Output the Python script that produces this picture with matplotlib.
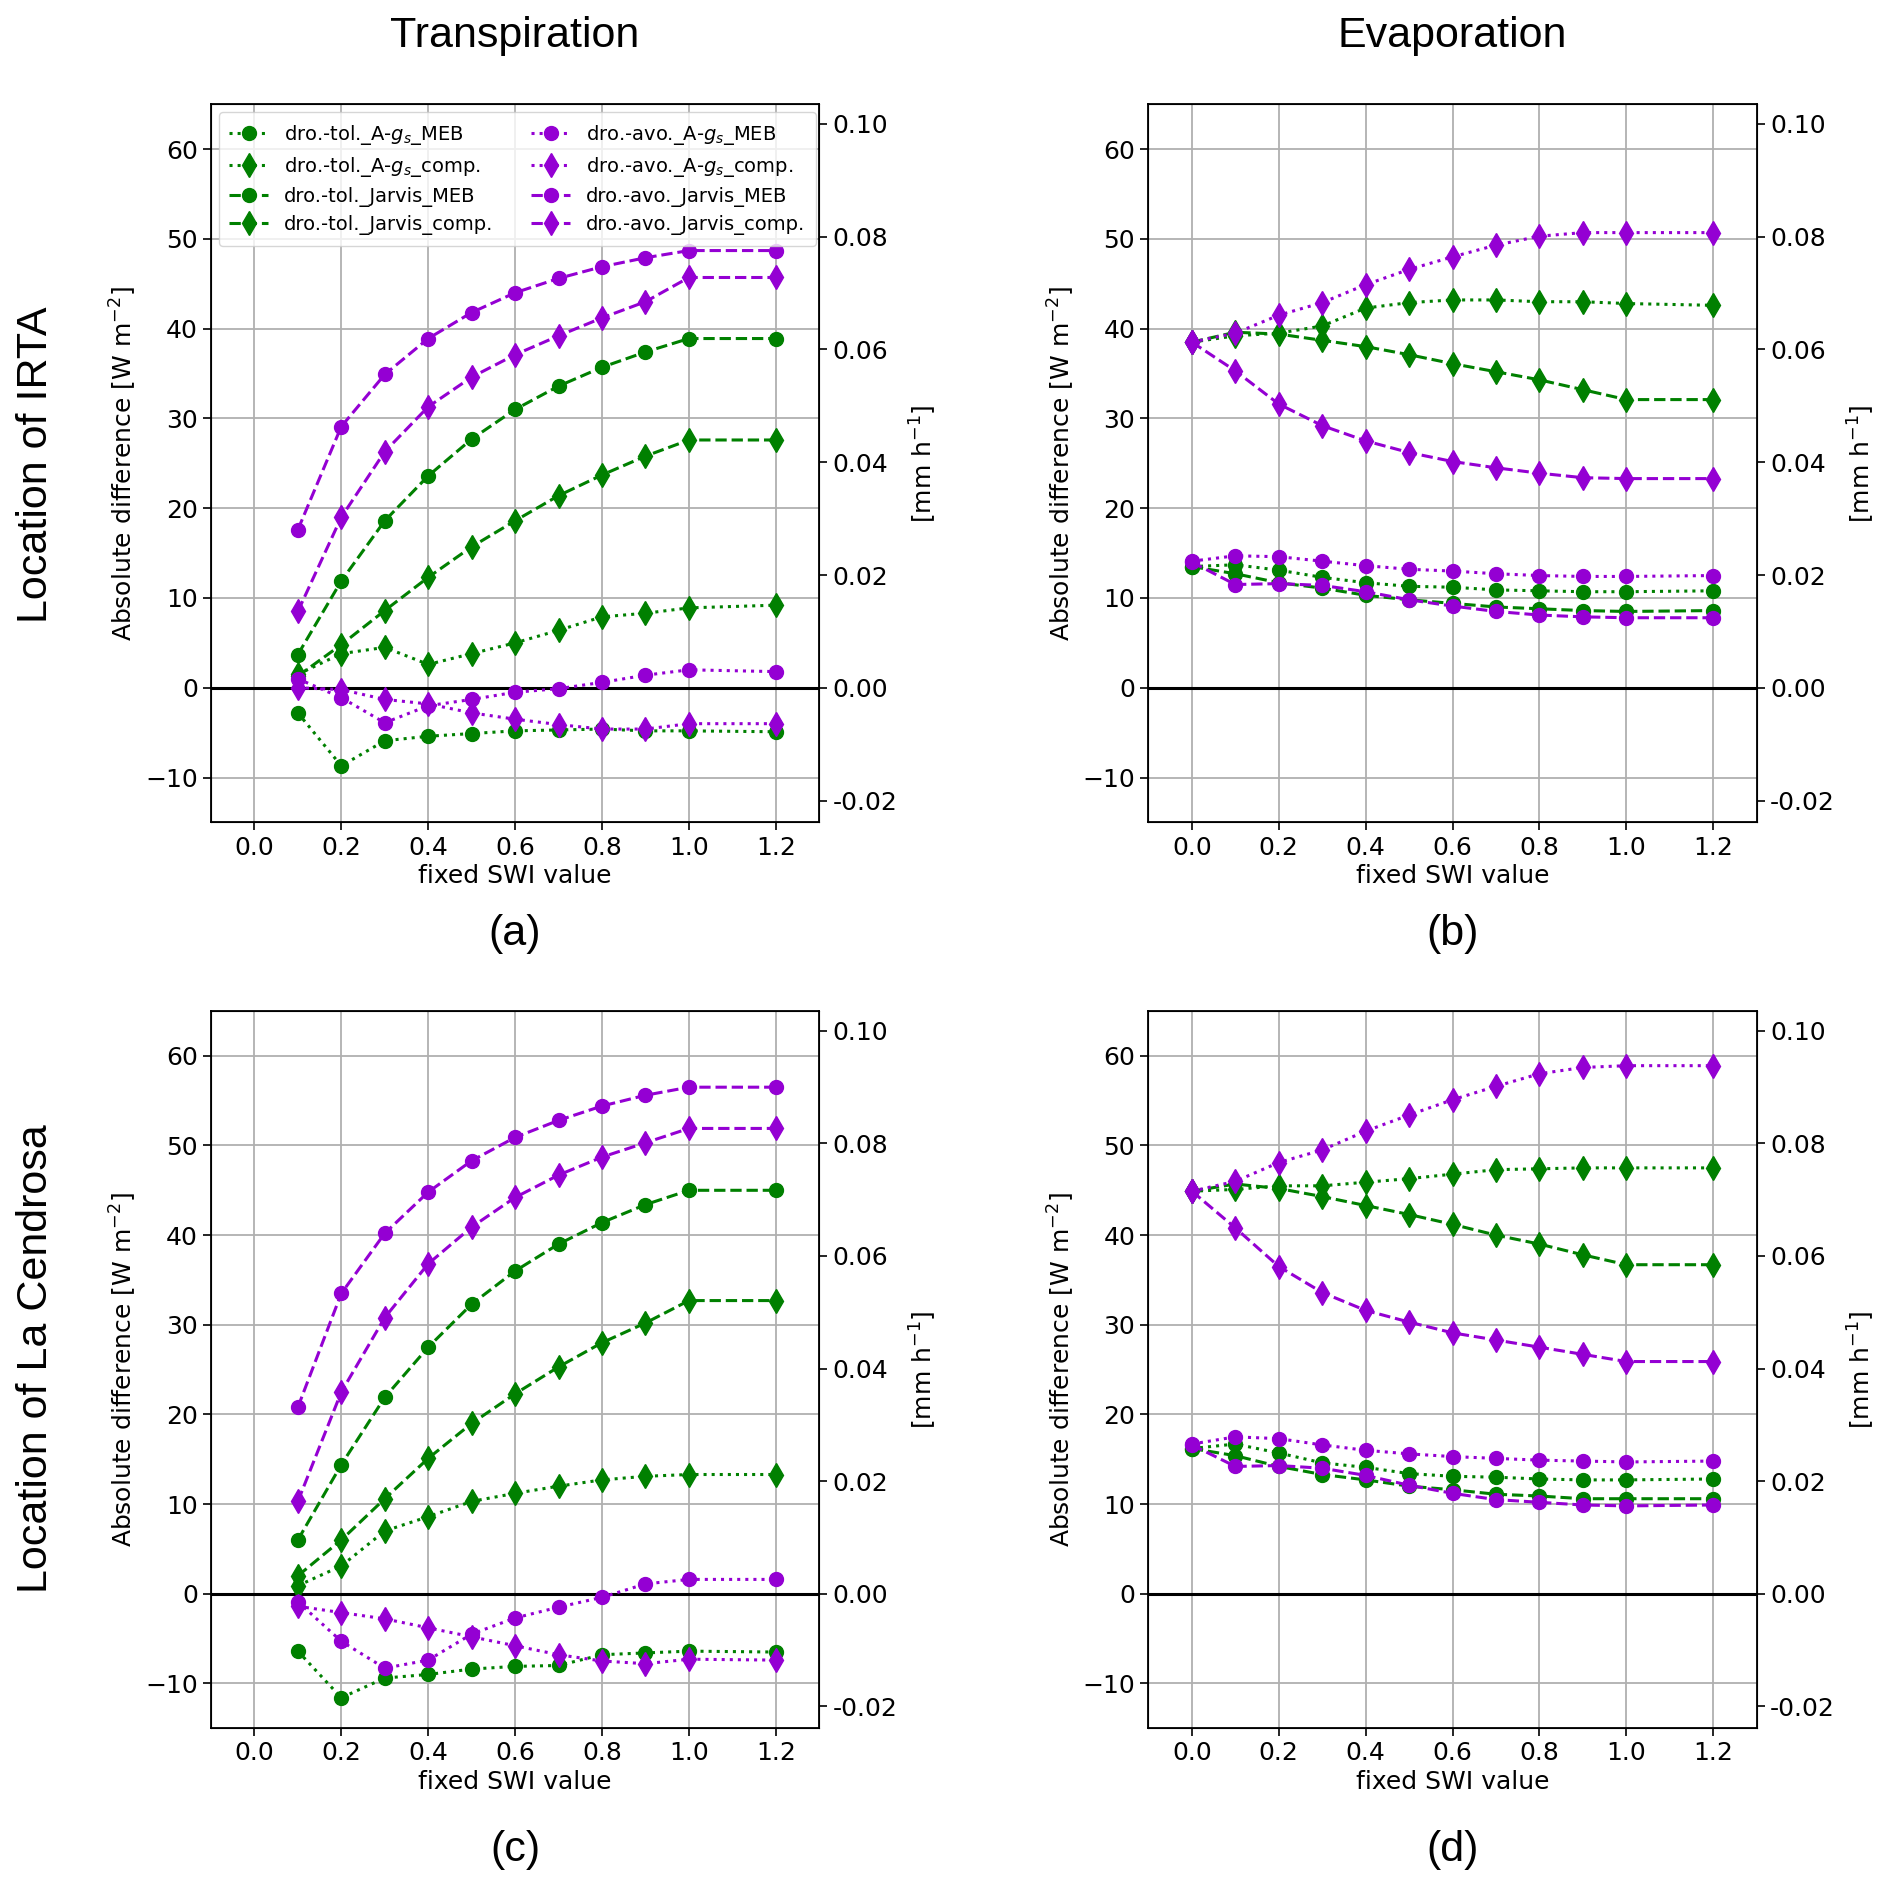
import matplotlib
matplotlib.use("Agg")
import matplotlib.pyplot as plt
import numpy as np

# ---------------- data ----------------
x_tr = [0.1, 0.2, 0.3, 0.4, 0.5, 0.6, 0.7, 0.8, 0.9, 1.0, 1.2]
x_ev = [0.0, 0.1, 0.2, 0.3, 0.4, 0.5, 0.6, 0.7, 0.8, 0.9, 1.0, 1.2]

series_names = [
    "dro.-tol._A-$g_s$_MEB", "dro.-tol._A-$g_s$_comp.",
    "dro.-tol._Jarvis_MEB", "dro.-tol._Jarvis_comp.",
    "dro.-avo._A-$g_s$_MEB", "dro.-avo._A-$g_s$_comp.",
    "dro.-avo._Jarvis_MEB", "dro.-avo._Jarvis_comp.",
]

# (a) IRTA transpiration
a_tol_ags_meb = [-2.8, -8.7, -5.9, -5.4, -5.1, -4.8, -4.7, -4.6, -4.8, -4.8, -4.9]
a_tol_ags_comp = [1.5, 3.8, 4.5, 2.6, 3.8, 5.0, 6.4, 7.9, 8.3, 8.9, 9.2]
a_tol_jar_meb = [3.7, 11.9, 18.6, 23.6, 27.7, 31.0, 33.6, 35.7, 37.4, 38.9, 38.9]
a_tol_jar_comp = [1.3, 4.8, 8.6, 12.3, 15.7, 18.6, 21.4, 23.7, 25.8, 27.6, 27.6]
a_avo_ags_meb = [1.0, -1.1, -3.9, -2.0, -1.3, -0.5, -0.1, 0.6, 1.4, 2.0, 1.8]
a_avo_ags_comp = [0.0, -0.2, -1.3, -1.8, -2.8, -3.5, -4.1, -4.6, -4.6, -4.0, -4.0]
a_avo_jar_meb = [17.6, 29.1, 34.9, 38.9, 41.8, 44.0, 45.6, 46.9, 47.9, 48.7, 48.7]
a_avo_jar_comp = [8.5, 19.0, 26.3, 31.3, 34.6, 37.1, 39.2, 41.2, 43.0, 45.7, 45.7]

# (b) IRTA evaporation
b_tol_ags_meb = [13.5, 13.7, 13.1, 12.3, 11.7, 11.3, 11.2, 10.9, 10.8, 10.7, 10.7, 10.8]
b_tol_ags_comp = [38.5, 39.2, 39.5, 40.3, 42.3, 42.9, 43.2, 43.2, 43.0, 43.0, 42.8, 42.6]
b_tol_jar_meb = [13.5, 12.7, 11.7, 11.1, 10.3, 9.8, 9.4, 9.0, 8.8, 8.6, 8.5, 8.6]
b_tol_jar_comp = [38.5, 39.6, 39.4, 38.7, 38.0, 37.1, 36.1, 35.2, 34.3, 33.2, 32.1, 32.1]
b_avo_ags_meb = [14.1, 14.7, 14.6, 14.1, 13.6, 13.2, 13.0, 12.7, 12.5, 12.4, 12.4, 12.5]
b_avo_ags_comp = [38.5, 39.5, 41.5, 42.9, 44.9, 46.6, 48.0, 49.3, 50.3, 50.7, 50.7, 50.7]
b_avo_jar_meb = [14.0, 11.5, 11.6, 11.4, 10.7, 9.8, 9.1, 8.5, 8.1, 7.9, 7.8, 7.8]
b_avo_jar_comp = [38.5, 35.3, 31.6, 29.2, 27.5, 26.2, 25.2, 24.5, 23.9, 23.4, 23.3, 23.3]

# (c) La Cendrosa transpiration
c_tol_ags_meb = [-6.4, -11.6, -9.4, -9.0, -8.4, -8.1, -8.0, -6.8, -6.6, -6.4, -6.5]
c_tol_ags_comp = [0.9, 3.1, 7.0, 8.6, 10.3, 11.2, 12.0, 12.7, 13.1, 13.3, 13.3]
c_tol_jar_meb = [6.0, 14.4, 21.9, 27.5, 32.3, 36.0, 39.0, 41.4, 43.4, 45.0, 45.0]
c_tol_jar_comp = [2.0, 6.0, 10.6, 15.1, 19.0, 22.3, 25.3, 28.0, 30.2, 32.7, 32.7]
c_avo_ags_meb = [-0.9, -5.3, -8.3, -7.4, -4.5, -2.7, -1.5, -0.4, 1.1, 1.6, 1.6]
c_avo_ags_comp = [-1.4, -2.1, -2.8, -3.8, -4.8, -5.8, -6.8, -7.5, -7.8, -7.3, -7.4]
c_avo_jar_meb = [20.8, 33.5, 40.2, 44.8, 48.3, 50.9, 52.8, 54.4, 55.6, 56.5, 56.5]
c_avo_jar_comp = [10.3, 22.5, 30.8, 36.8, 40.9, 44.2, 46.7, 48.7, 50.3, 51.9, 51.9]

# (d) La Cendrosa evaporation
d_tol_ags_meb = [16.2, 16.7, 15.7, 14.6, 14.1, 13.4, 13.1, 13.0, 12.8, 12.7, 12.7, 12.8]
d_tol_ags_comp = [44.9, 45.1, 45.5, 45.5, 45.9, 46.3, 46.8, 47.3, 47.4, 47.5, 47.5, 47.5]
d_tol_jar_meb = [16.2, 15.4, 14.2, 13.3, 12.7, 12.0, 11.6, 11.1, 10.9, 10.6, 10.6, 10.6]
d_tol_jar_comp = [44.9, 45.7, 45.2, 44.3, 43.3, 42.3, 41.2, 40.0, 39.0, 37.8, 36.7, 36.7]
d_avo_ags_meb = [16.7, 17.5, 17.3, 16.6, 16.0, 15.6, 15.3, 15.1, 14.9, 14.8, 14.7, 14.8]
d_avo_ags_comp = [44.9, 46.0, 48.1, 49.5, 51.6, 53.4, 55.1, 56.6, 58.0, 58.7, 58.9, 58.9]
d_avo_jar_meb = [16.6, 14.2, 14.3, 14.0, 13.2, 12.1, 11.2, 10.5, 10.2, 9.9, 9.8, 9.9]
d_avo_jar_comp = [44.9, 40.8, 36.5, 33.6, 31.6, 30.3, 29.1, 28.3, 27.5, 26.7, 25.9, 25.9]

panels = [
    ("(a)", x_tr, [a_tol_ags_meb, a_tol_ags_comp, a_tol_jar_meb, a_tol_jar_comp,
                   a_avo_ags_meb, a_avo_ags_comp, a_avo_jar_meb, a_avo_jar_comp]),
    ("(b)", x_ev, [b_tol_ags_meb, b_tol_ags_comp, b_tol_jar_meb, b_tol_jar_comp,
                   b_avo_ags_meb, b_avo_ags_comp, b_avo_jar_meb, b_avo_jar_comp]),
    ("(c)", x_tr, [c_tol_ags_meb, c_tol_ags_comp, c_tol_jar_meb, c_tol_jar_comp,
                   c_avo_ags_meb, c_avo_ags_comp, c_avo_jar_meb, c_avo_jar_comp]),
    ("(d)", x_ev, [d_tol_ags_meb, d_tol_ags_comp, d_tol_jar_meb, d_tol_jar_comp,
                   d_avo_ags_meb, d_avo_ags_comp, d_avo_jar_meb, d_avo_jar_comp]),
]

col_titles = ["Transpiration", "Evaporation"]
row_titles = ["Location of IRTA", "Location of La Cendrosa"]
xticks = [0.0, 0.2, 0.4, 0.6, 0.8, 1.0, 1.2]
yticks = [-10, 0, 10, 20, 30, 40, 50, 60]
yticks_r = [-0.02, 0.0, 0.02, 0.04, 0.06, 0.08, 0.10]
WM2_PER_MMH = 628.0

# ---------------- styles ----------------
GREEN = "#008000"
PURPLE = "#9400D3"
styles = [
    (GREEN, ":", "o"), (GREEN, ":", "d"), (GREEN, "--", "o"), (GREEN, "--", "d"),
    (PURPLE, ":", "o"), (PURPLE, ":", "d"), (PURPLE, "--", "o"), (PURPLE, "--", "d"),
]

plt.rcParams["font.family"] = ["DejaVu Sans"]
fig = plt.figure(figsize=(18.92, 18.95), dpi=100)

positions = [
    [0.1115, 0.566, 0.3215, 0.379],
    [0.607, 0.566, 0.3215, 0.379],
    [0.1115, 0.088, 0.3215, 0.3785],
    [0.607, 0.088, 0.3215, 0.3785],
]

TICKFS = 18
for i, (lab, xs, data) in enumerate(panels):
    ax = fig.add_axes(positions[i])
    for (name, ys, (c, ls, m)) in zip(series_names, data, styles):
        ms = 10 if m == "o" else 12
        ax.plot(xs, ys, color=c, linestyle=ls, marker=m, markersize=ms,
                linewidth=2.2, label=name)
    ax.axhline(0, color="black", linewidth=2.2, zorder=1)
    ax.set_xlim(-0.1, 1.3)
    ax.set_ylim(-15, 65)
    ax.set_xticks(xticks)
    ax.set_xticklabels([f"{t:.1f}" for t in xticks])
    ax.set_yticks(yticks)
    ax.grid(True, color="#b0b0b0", linewidth=1.3)
    ax.set_axisbelow(True)
    ax.tick_params(labelsize=TICKFS, length=6, width=1.2)
    ax.set_xlabel("fixed SWI value", fontsize=TICKFS, labelpad=3)
    ax.set_ylabel("Absolute difference [W m$^{-2}$]", fontsize=TICKFS, labelpad=4)
    for sp in ax.spines.values():
        sp.set_linewidth(1.3)
    ax2 = ax.twinx()
    ax2.set_ylim(-15 / WM2_PER_MMH, 65 / WM2_PER_MMH)
    ax2.set_yticks(yticks_r)
    ax2.set_yticklabels([f"{t:.2f}" for t in yticks_r])
    ax2.tick_params(labelsize=TICKFS, length=6, width=1.2)
    ax2.set_ylabel("[mm h$^{-1}$]", fontsize=TICKFS, labelpad=8)
    if i == 0:
        ax.legend(ncol=2, loc="upper left", fontsize=14, framealpha=0.8,
                  borderaxespad=0.4, columnspacing=1.95, handlelength=2.0,
                  labelspacing=0.42, borderpad=0.55)
    # panel letter
    cx = positions[i][0] + positions[i][2] / 2
    yl = 0.507 if i < 2 else 0.024
    fig.text(cx, yl, lab, ha="center", va="center", fontsize=31,
             family="Liberation Sans")

for j, t in enumerate(col_titles):
    cx = positions[j][0] + positions[j][2] / 2
    fig.text(cx, 0.981, t, ha="center", va="center", fontsize=31,
             family="Liberation Sans")

fig.text(0.019, 0.755, row_titles[0], ha="center", va="center", rotation=90,
         fontsize=31, family="Liberation Sans")
fig.text(0.019, 0.283, row_titles[1], ha="center", va="center", rotation=90,
         fontsize=31, family="Liberation Sans")

fig.savefig("out.png", dpi=100)
